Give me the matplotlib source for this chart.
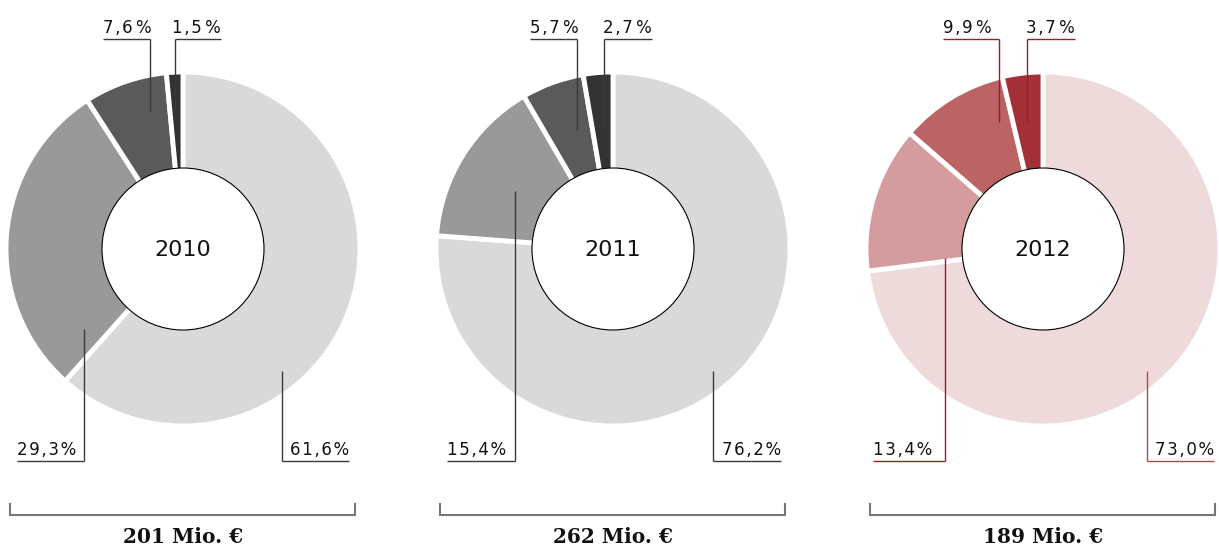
import matplotlib.pyplot as plt
from matplotlib.patches import Circle

# Anteile je Jahr, im Uhrzeigersinn ab 12 Uhr
years = ['2010', '2011', '2012']
shares_2010 = [61.6, 29.3, 7.6, 1.5]
shares_2011 = [76.2, 15.4, 5.7, 2.7]
shares_2012 = [73.0, 13.4, 9.9, 3.7]
totals = ['201 Mio. €', '262 Mio. €', '189 Mio. €']

grays = ['#d9d9d9', '#999999', '#5a5a5a', '#333333']
reds = ['#eedadb', '#d49c9e', '#bc6366', '#a33036']

# Layout in Pixeln
W, H = 1219, 548
centers_x = [183, 613, 1043]
cy = 249
r_out, r_in = 177, 81

# Beschriftung: (dx der Linie, Spitze y, Linie y, Linienlaenge, Seite)
label_layout = [
    [(99, 371, 461, 67, 'R'), (-99, 329, 461, 67, 'L'), (-33, 111, 39, 47, 'L'), (-8, 111, 39, 46, 'R')],
    [(100, 371, 461, 68, 'R'), (-98, 191, 461, 68, 'L'), (-36, 130, 39, 47, 'L'), (-9, 130, 39, 48, 'R')],
    [(104, 371, 461, 67, 'R'), (-98, 258, 461, 72, 'L'), (-44, 122, 39, 56, 'L'), (-16, 122, 39, 48, 'R')],
]
line_colors = [
    ['#3a3a3a'] * 4,
    ['#3a3a3a'] * 4,
    ['#b5474c', '#9e1c24', '#9e1c24', '#9e1c24'],
]

HAIR = '\u200a'


def spaced(s):
    # leichte Sperrung der Ziffern
    return HAIR.join(s)


fig = plt.figure(figsize=(W / 100, H / 100), dpi=100)
ax = fig.add_axes([0, 0, 1, 1])
ax.set_xlim(0, W)
ax.set_ylim(H, 0)
ax.set_aspect('equal')
ax.axis('off')

all_shares = [shares_2010, shares_2011, shares_2012]
palettes = [grays, grays, reds]

for i, (year, shares) in enumerate(zip(years, all_shares)):
    cx = centers_x[i]
    # y-Achse ist invertiert: -90 Grad zeigt nach oben, counterclock=True laeuft im Uhrzeigersinn
    ax.pie(shares, colors=palettes[i], center=(cx, cy), radius=r_out,
           startangle=-90, counterclock=True, normalize=True, frame=True,
           wedgeprops=dict(width=r_out - r_in + 6, edgecolor='white', linewidth=3.5))
    ax.add_patch(Circle((cx, cy), r_in, facecolor='white', edgecolor='black',
                        linewidth=0.8, zorder=3))
    ax.text(cx, cy + 1, year, ha='center', va='center', fontsize=16,
            family='DejaVu Sans', color='#111111', zorder=4)

    for v, (dx, tip, ly, length, side), lc in zip(shares, label_layout[i], line_colors[i]):
        xv = cx + dx
        top = ly < cy
        xs = [xv - length, xv] if side == 'L' else [xv, xv + length]
        ax.plot([xv, xv], [tip, ly], color=lc, lw=1.0, solid_capstyle='butt', zorder=5)
        ax.plot(xs, [ly, ly], color=lc, lw=1.0, solid_capstyle='butt', zorder=5)
        num = spaced(f'{v:.1f}'.replace('.', ','))
        txt = num + ('\u2009' if top else HAIR) + '%'
        if side == 'L':
            ax.text(xs[0], ly - 6, txt, ha='left', va='baseline', fontsize=12,
                    family='DejaVu Sans', color='#111111')
        else:
            ax.text(xs[1], ly - 6, txt, ha='right', va='baseline', fontsize=12,
                    family='DejaVu Sans', color='#111111')

    # Klammer mit Gesamtsumme
    bx0, bx1 = cx - 173, cx + 172
    ax.plot([bx0, bx0, bx1, bx1], [504, 515, 515, 504], color='#777777', lw=1.5,
            solid_joinstyle='miter')
    ax.text(cx, 537, totals[i], ha='center', va='center', fontsize=14.5,
            family='DejaVu Serif', fontweight='bold', color='#111111')

ax.set_xlim(0, W)
ax.set_ylim(H, 0)
fig.savefig('out.png', dpi=100)
